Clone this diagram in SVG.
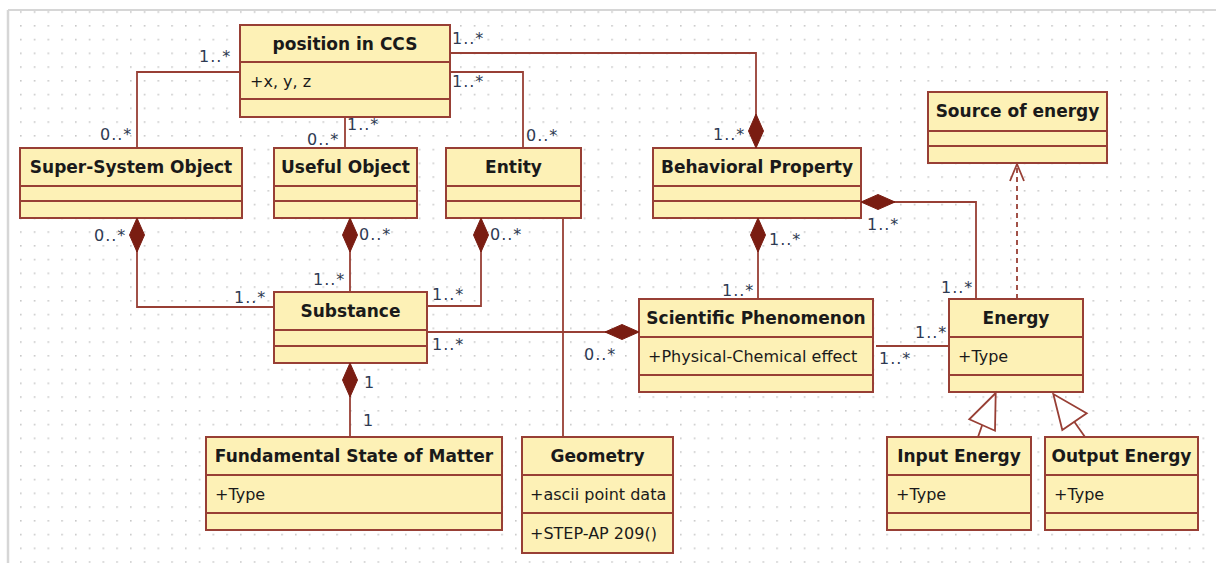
<svg xmlns="http://www.w3.org/2000/svg" xmlns:xlink="http://www.w3.org/1999/xlink" width="1216" height="563" viewBox="0 0 1216 563">
<defs>
<pattern id="grid" x="6.25" y="11.25" width="13.75" height="13.75" patternUnits="userSpaceOnUse">
<rect x="0" y="0" width="1.6" height="1.6" fill="#c8c8c8"/>
</pattern>
<path id="dv" d="M0,0 L7.5,17 L0,34 L-7.5,17 Z" fill="#7a1d12" stroke="#7a1d12" stroke-width="1"/>
<path id="dh" d="M0,0 L17,-7.5 L34,0 L17,7.5 Z" fill="#7a1d12" stroke="#7a1d12" stroke-width="1"/>
</defs>
<style>
.box{fill:#fdf1b6;stroke:#983f35;stroke-width:2}
.div{stroke:#983f35;stroke-width:2}
.name{font-family:"DejaVu Sans",Verdana,sans-serif;font-weight:bold;font-size:17px;fill:#1a1a1a;text-anchor:middle}
.attr{font-family:"DejaVu Sans",Verdana,sans-serif;font-size:16px;fill:#1a1a1a}
.mult{font-family:"DejaVu Sans",Verdana,sans-serif;font-size:16px;fill:#2e3a52;letter-spacing:1px}
.ln{fill:none;stroke:#983f35;stroke-width:1.8}
.dash{fill:none;stroke:#983f35;stroke-width:1.8;stroke-dasharray:5 4}
.tri{fill:#ffffff;stroke:#983f35;stroke-width:1.8}
</style>
<rect x="0" y="0" width="1216" height="563" fill="#ffffff"/>
<rect x="9" y="11" width="1207" height="552" fill="url(#grid)"/>
<line x1="8" y1="10" x2="1216" y2="10" stroke="#d6d6d6" stroke-width="2"/>
<line x1="8" y1="10" x2="8" y2="563" stroke="#d6d6d6" stroke-width="2.5"/>

<g id="position-in-ccs">
<rect class="box" x="240" y="25" width="210" height="92"/>
<line class="div" x1="240" y1="62" x2="450" y2="62"/>
<line class="div" x1="240" y1="99" x2="450" y2="99"/>
<text class="name" x="345" y="50">position in CCS</text>
<text class="attr" x="250" y="87">+x, y, z</text>
</g>
<g id="super-system-object">
<rect class="box" x="20" y="148" width="222" height="70"/>
<line class="div" x1="20" y1="186" x2="242" y2="186"/>
<line class="div" x1="20" y1="201" x2="242" y2="201"/>
<text class="name" x="131" y="173">Super-System Object</text>
</g>
<g id="useful-object">
<rect class="box" x="274" y="148" width="143" height="70"/>
<line class="div" x1="274" y1="186" x2="417" y2="186"/>
<line class="div" x1="274" y1="201" x2="417" y2="201"/>
<text class="name" x="345.5" y="173">Useful Object</text>
</g>
<g id="entity">
<rect class="box" x="446" y="148" width="135" height="70"/>
<line class="div" x1="446" y1="186" x2="581" y2="186"/>
<line class="div" x1="446" y1="201" x2="581" y2="201"/>
<text class="name" x="513.5" y="173">Entity</text>
</g>
<g id="behavioral-property">
<rect class="box" x="653" y="148" width="208" height="70"/>
<line class="div" x1="653" y1="186" x2="861" y2="186"/>
<line class="div" x1="653" y1="201" x2="861" y2="201"/>
<text class="name" x="757" y="173">Behavioral Property</text>
</g>
<g id="source-of-energy">
<rect class="box" x="928" y="92" width="179" height="71"/>
<line class="div" x1="928" y1="131" x2="1107" y2="131"/>
<line class="div" x1="928" y1="146" x2="1107" y2="146"/>
<text class="name" x="1017.5" y="117">Source of energy</text>
</g>
<g id="substance">
<rect class="box" x="274" y="292" width="153" height="71"/>
<line class="div" x1="274" y1="330" x2="427" y2="330"/>
<line class="div" x1="274" y1="346" x2="427" y2="346"/>
<text class="name" x="350.5" y="317">Substance</text>
</g>
<g id="scientific-phenomenon">
<rect class="box" x="639" y="299" width="234" height="93"/>
<line class="div" x1="639" y1="337" x2="873" y2="337"/>
<line class="div" x1="639" y1="375" x2="873" y2="375"/>
<text class="name" x="756" y="324">Scientific Phenomenon</text>
<text class="attr" x="648" y="362">+Physical-Chemical effect</text>
</g>
<g id="energy">
<rect class="box" x="949" y="299" width="134" height="93"/>
<line class="div" x1="949" y1="337" x2="1083" y2="337"/>
<line class="div" x1="949" y1="375" x2="1083" y2="375"/>
<text class="name" x="1016" y="324">Energy</text>
<text class="attr" x="958" y="362">+Type</text>
</g>
<g id="fundamental-state-of-matter">
<rect class="box" x="206" y="437" width="296" height="93"/>
<line class="div" x1="206" y1="475" x2="502" y2="475"/>
<line class="div" x1="206" y1="513" x2="502" y2="513"/>
<text class="name" x="354" y="462">Fundamental State of Matter</text>
<text class="attr" x="215" y="500">+Type</text>
</g>
<g id="geometry">
<rect class="box" x="522" y="437" width="151" height="116"/>
<line class="div" x1="522" y1="475" x2="673" y2="475"/>
<line class="div" x1="522" y1="513" x2="673" y2="513"/>
<text class="name" x="597.5" y="462">Geometry</text>
<text class="attr" x="530" y="500">+ascii point data</text>
<text class="attr" x="530" y="539">+STEP-AP 209()</text>
</g>
<g id="input-energy">
<rect class="box" x="887" y="437" width="144" height="93"/>
<line class="div" x1="887" y1="475" x2="1031" y2="475"/>
<line class="div" x1="887" y1="513" x2="1031" y2="513"/>
<text class="name" x="959" y="462">Input Energy</text>
<text class="attr" x="896" y="500">+Type</text>
</g>
<g id="output-energy">
<rect class="box" x="1045" y="437" width="153" height="93"/>
<line class="div" x1="1045" y1="475" x2="1198" y2="475"/>
<line class="div" x1="1045" y1="513" x2="1198" y2="513"/>
<text class="name" x="1121.5" y="462">Output Energy</text>
<text class="attr" x="1054" y="500">+Type</text>
</g>

<g id="connectors">
<polyline class="ln" points="240,72 137,72 137,148"/>
<line class="ln" x1="345" y1="117" x2="345" y2="148"/>
<polyline class="ln" points="450,72 523,72 523,148"/>
<polyline class="ln" points="450,53 756,53 756,120"/>
<use xlink:href="#dv" x="756" y="114"/>
<polyline class="ln" points="137,240 137,307 274,307"/>
<use xlink:href="#dv" x="137" y="218"/>
<line class="ln" x1="350" y1="240" x2="350" y2="292"/>
<use xlink:href="#dv" x="350" y="218"/>
<polyline class="ln" points="481,240 481,306 427,306"/>
<use xlink:href="#dv" x="481" y="218"/>
<line class="ln" x1="563" y1="218" x2="563" y2="437"/>
<line class="ln" x1="427" y1="332" x2="610" y2="332"/>
<use xlink:href="#dh" x="605" y="332"/>
<line class="ln" x1="350" y1="385" x2="350" y2="437"/>
<use xlink:href="#dv" x="350" y="363"/>
<line class="ln" x1="758" y1="240" x2="758" y2="299"/>
<use xlink:href="#dv" x="758" y="218"/>
<polyline class="ln" points="890,202 976,202 976,299"/>
<use xlink:href="#dh" x="861" y="202"/>
<line class="ln" x1="876" y1="346" x2="949" y2="346"/>
<line class="dash" x1="1017" y1="299" x2="1017" y2="166"/>
<polyline class="ln" points="1010,181 1017,164 1024,181" stroke-width="1.5"/>
<line class="ln" x1="978" y1="437" x2="982.2" y2="425"/>
<polygon class="tri" points="995.7,393 969.3,419.3 995,430.7"/>
<line class="ln" x1="1085" y1="437" x2="1074.3" y2="421.7"/>
<polygon class="tri" points="1053.3,394 1062.3,430 1086.7,413.3"/>
</g>

<g id="multiplicities">
<text class="mult" x="199" y="62">1..*</text>
<text class="mult" x="100" y="140">0..*</text>
<text class="mult" x="347" y="130">1..*</text>
<text class="mult" x="307" y="145">0..*</text>
<text class="mult" x="452" y="87">1..*</text>
<text class="mult" x="526" y="141">0..*</text>
<text class="mult" x="452" y="44">1..*</text>
<text class="mult" x="713" y="140">1..*</text>
<text class="mult" x="94" y="241">0..*</text>
<text class="mult" x="234" y="303">1..*</text>
<text class="mult" x="359" y="240">0..*</text>
<text class="mult" x="313" y="285">1..*</text>
<text class="mult" x="490" y="240">0..*</text>
<text class="mult" x="432" y="300">1..*</text>
<text class="mult" x="432" y="350">1..*</text>
<text class="mult" x="584" y="360">0..*</text>
<text class="mult" x="364" y="388">1</text>
<text class="mult" x="363" y="426">1</text>
<text class="mult" x="769" y="245">1..*</text>
<text class="mult" x="722" y="296">1..*</text>
<text class="mult" x="867" y="230">1..*</text>
<text class="mult" x="941" y="293">1..*</text>
<text class="mult" x="915" y="338">1..*</text>
<text class="mult" x="879" y="364">1..*</text>
</g>
</svg>
